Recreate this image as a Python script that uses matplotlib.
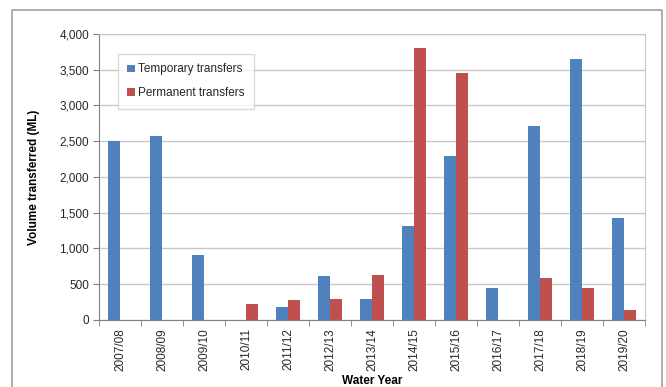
import numpy as np
import matplotlib.pyplot as plt
from matplotlib.lines import Line2D

plt.rcParams['font.family'] = ['Liberation Sans', 'DejaVu Sans']
plt.rcParams['text.color'] = '#262626'
plt.rcParams['xtick.labelcolor'] = '#262626'
plt.rcParams['ytick.labelcolor'] = '#262626'

years = ['2007/08', '2008/09', '2009/10', '2010/11', '2011/12', '2012/13', '2013/14',
         '2014/15', '2015/16', '2016/17', '2017/18', '2018/19', '2019/20']
temporary = [2500, 2580, 910, 0, 175, 610, 290, 1320, 2300, 450, 2710, 3650, 1420]
permanent = [0, 0, 0, 220, 280, 300, 630, 3800, 3450, 0, 590, 450, 140]

blue = '#4F81BD'
red = '#C0504D'

fig = plt.figure(figsize=(6.66, 3.87), dpi=100)
ax = fig.add_axes([99 / 666, 1 - 320 / 387, 546 / 666, 286 / 387])

# outer frame (left, top, right)
W, H = 666, 387
fig.add_artist(Line2D([12 / W, 12 / W, 662 / W, 662 / W], [0, 1 - 10 / H, 1 - 10 / H, 0],
                      transform=fig.transFigure, color='#a0a0a0', lw=1.2))

x = np.arange(len(years))
w = 0.285
ax.bar(x - w / 2, temporary, w, color=blue, label='Temporary transfers', zorder=3)
ax.bar(x + w / 2, permanent, w, color=red, label='Permanent transfers', zorder=3)

ax.set_xlim(-0.5, len(years) - 0.5)
ax.set_ylim(0, 4000)
ax.set_yticks(np.arange(0, 4001, 500))
ax.set_yticklabels([f'{v:,}' for v in range(0, 4001, 500)], fontsize=8.5)
ax.set_xticks(x)
ax.set_xticklabels(years, rotation=90, fontsize=8.5)
ax.set_xticks(np.arange(-0.5, len(years), 1), minor=True)
ax.tick_params(axis='x', which='major', length=0, pad=6)
ax.tick_params(axis='x', which='minor', length=4, color='#808080', direction='out')
ax.tick_params(axis='y', length=4, color='#808080', direction='out', pad=3)

ax.grid(axis='y', color='#c8c8c8', lw=1, zorder=0)
for s in ['left', 'bottom']:
    ax.spines[s].set_color('#808080')
for s in ['right', 'top']:
    ax.spines[s].set_color('#c8c8c8')

ax.set_ylabel('Volume transferred (ML)', fontsize=8.5, fontweight='bold', labelpad=14)
ax.set_xlabel('Water Year', fontsize=8.5, fontweight='bold', labelpad=3)

leg = ax.legend(loc='upper left', bbox_to_anchor=(19 / 546, 1 - 20 / 286), fontsize=8.5,
                frameon=True, fancybox=False, edgecolor='#d0d0d0', handlelength=0.6,
                handleheight=0.6, handletextpad=0.3, labelspacing=1.0, borderpad=0.8,
                borderaxespad=0)
leg.get_frame().set_linewidth(1.0)

fig.savefig('out.png', dpi=100)
